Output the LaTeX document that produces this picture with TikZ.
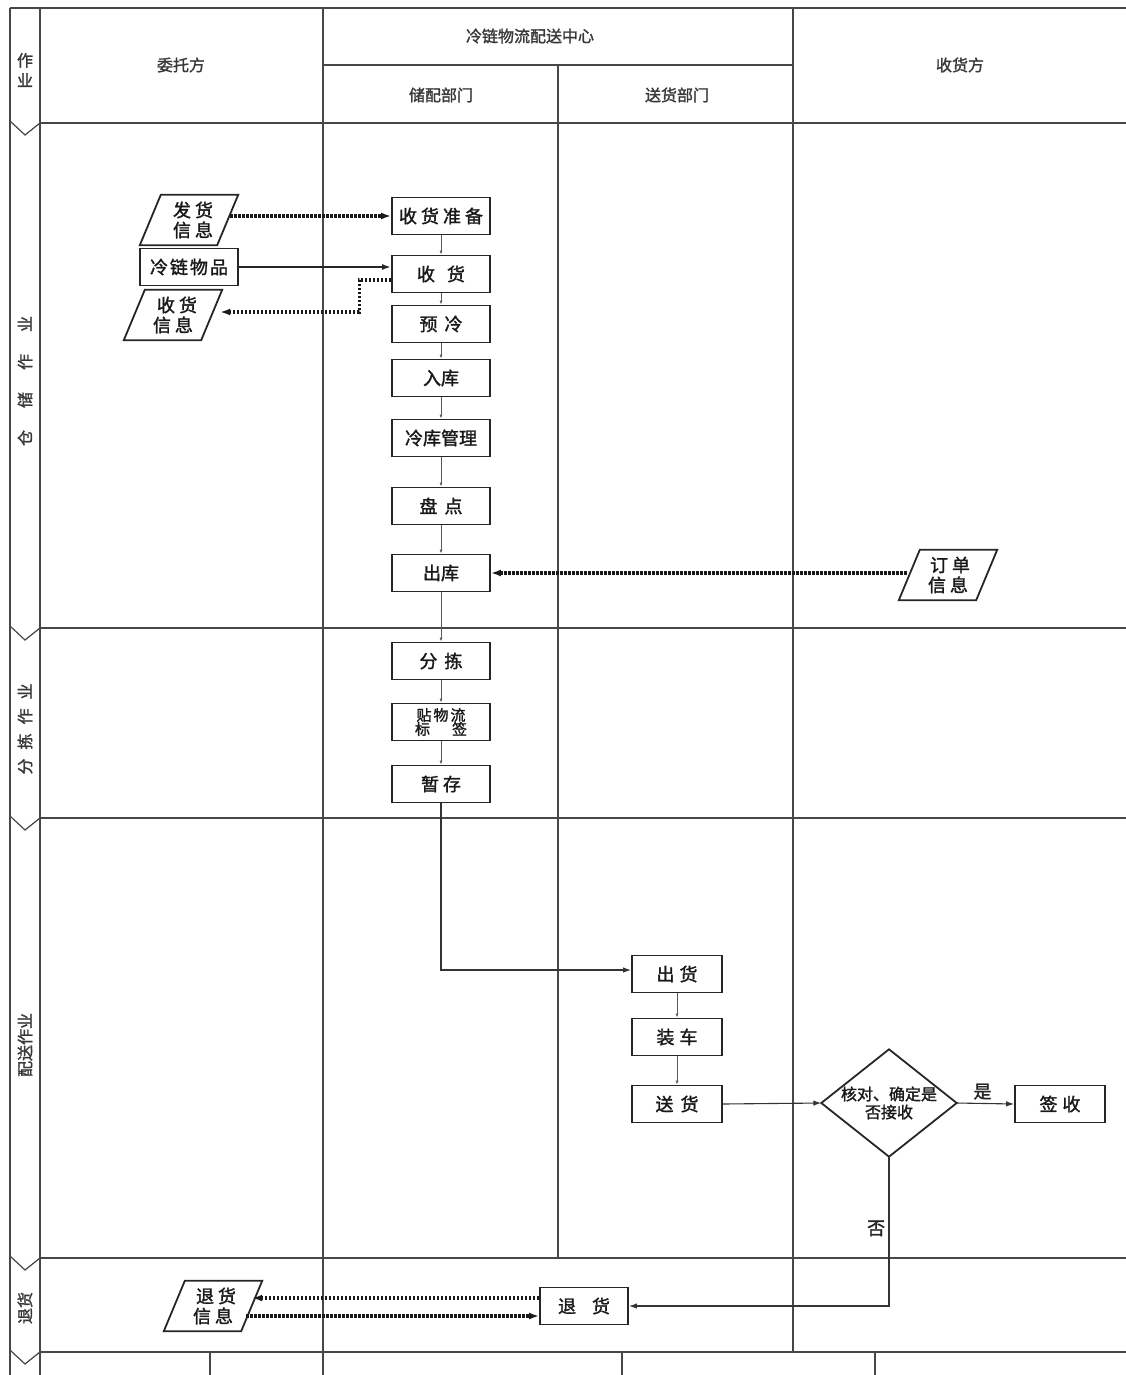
\documentclass[tikz,border=0pt]{standalone}
\usepackage{fontspec}
\setmainfont{Noto Sans CJK SC}[AutoFakeBold=1.6]
\usetikzlibrary{shapes.geometric,arrows.meta,calc}
\newcommand{\gp}[1]{\hspace{#1pt}}
\begin{document}
\begin{tikzpicture}[x=1pt,y=-1pt,
  lane/.style={draw=black!72, line width=1.2pt},
  box/.style={draw=black!85, line width=1.8pt, minimum width=98pt, minimum height=37pt, inner sep=0pt, font=\fontsize{18}{20}\selectfont\bfseries, text=black!90},
  sbox/.style={box, minimum width=90pt},
  ptext/.style={minimum width=98pt, minimum height=50pt, inner sep=0pt, align=center, font=\fontsize{18}{20}\selectfont\bfseries, text=black!90},
  pline/.style={draw=black!85, line width=1.8pt},
  head/.style={font=\fontsize{16}{18}\selectfont\bfseries, text=black!78},
  side/.style={font=\fontsize{16}{18}\selectfont\bfseries, text=black!78},
  con/.style={draw=black!65, line width=0.8pt, -{Latex[length=4pt,width=3pt]}},
  flow/.style={draw=black!85, line width=2.2pt, -{Latex[length=9pt,width=6pt]}},
  tflow/.style={draw=black!80, line width=1.1pt, -{Latex[length=8pt,width=5.5pt]}},
  dotflow/.style={draw=black!90, line width=3.2pt, dash pattern=on 2.4pt off 1.6pt, -{Latex[length=10pt,width=7pt]}},
  lbl/.style={font=\fontsize{18}{20}\selectfont\bfseries, text=black!85}
]
\useasboundingbox (0,0) rectangle (1126,1375);

% ---------- lanes ----------
\draw[lane] (10,8) -- (1126,8);
\draw[lane] (10,8) -- (10,1375);
\draw[lane] (40,8) -- (40,1375);
\draw[lane] (323,8) -- (323,1375);
\draw[lane] (793,8) -- (793,1352);
\draw[lane] (558,65) -- (558,1258);
\draw[lane] (323,65) -- (793,65);
\foreach \yy in {123,628,818,1258,1352}{
  \draw[lane] (40,\yy) -- (1126,\yy);
  \draw[lane] (10,\yy-2) -- (25,\yy+12) -- (40,\yy);
}
\draw[lane] (210,1352) -- (210,1375);
\draw[lane] (622,1352) -- (622,1375);
\draw[lane] (875,1352) -- (875,1375);

% ---------- headers ----------
\node[head] (h1) at (181,65) {委托方};
\node[head] (h2) at (530,36) {冷链物流配送中心};
\node[head] (h3) at (441,95) {储配部门};
\node[head] (h4) at (677,95) {送货部门};
\node[head] (h5) at (960,65) {收货方};

% ---------- side labels ----------
\node[side, align=center, font=\fontsize{16}{20}\selectfont\bfseries] (s0) at (25,70) {作\\业};
\node[side, rotate=90] (s1) at (25,381) {仓\gp{22}储\gp{22}作\gp{22}业};
\node[side, rotate=90] (s2) at (25,729) {分\gp{9}拣\gp{9}作\gp{9}业};
\node[side, rotate=90] (s3) at (25,1045) {配送作业};
\node[side, rotate=90] (s4) at (25,1308) {退货};

% ---------- storage column ----------
\node[box] (sz) at (441,216) {收\gp{4}货\gp{4}准\gp{4}备};
\node[box] (sh) at (441,274) {收\gp{12}货};
\node[box] (yl) at (441,324) {预\gp{7}冷};
\node[box] (rk) at (441,378) {入库};
\node[box] (lk) at (441,438) {冷库管理};
\node[box] (pd) at (441,506) {盘\gp{7}点};
\node[box] (ck) at (441,573) {出库};
\node[box] (fj) at (441,661) {分\gp{7}拣};
\node[box, align=center, font=\fontsize{15}{14}\selectfont\bfseries] (tb) at (441,722) {贴\gp{2}物\gp{2}流\\标\gp{22}签};
\node[box] (zc) at (441,784) {暂\gp{4}存};

% ---------- delivery column ----------
\node[sbox] (chu) at (677,974) {出\gp{5}货};
\node[sbox] (zche) at (677,1037) {装\gp{5}车};
\node[sbox] (sh2) at (677,1104) {送\gp{7}货};
\node[minimum width=135pt, minimum height=107pt, inner sep=0pt, align=center, font=\fontsize{16}{18}\selectfont\bfseries, text=black!90] (dm) at (889,1103) {核对、确定是\\否接收};
\draw[draw=black!85, line width=1.8pt, line join=miter] (dm.north) -- (dm.east) -- (dm.south) -- (dm.west) -- cycle;
\node[sbox] (qs) at (1060,1104) {签\gp{5}收};
\node[box, minimum width=88pt] (th) at (584,1306) {退\gp{16}货};

% ---------- client side ----------
\node[box] (wp) at (189,267) {冷\gp{2}链\gp{2}物\gp{2}品};
\newcommand{\para}[3]{%
  \node[ptext] (#1) at (#2) {#3};
  \draw[pline] ([xshift=21pt]#1.north west) -- (#1.north east) -- ([xshift=-21pt]#1.south east) -- (#1.south west) -- cycle;}
\para{fh}{189,220}{\gp{8}发\gp{4}货\\\gp{8}信\gp{4}息}
\para{shx}{173,315}{\gp{8}收\gp{4}货\\信\gp{4}息}
\para{dd}{948,575}{\gp{4}订\gp{4}单\\信\gp{4}息}
\para{thx}{213,1306}{\gp{6}退\gp{4}货\\信\gp{4}息}

% ---------- connectors ----------
\coordinate (a1) at ([xshift=-8pt]fh.east);
\draw[dotflow] (a1 |- sz.west) -- (sz.west);
\draw[flow] (wp.east) -- (sh.west |- wp.east);
\draw[dotflow] ([yshift=-6pt]sh.west) -- ++(-32,0) |- ([xshift=-2pt,yshift=3pt]shx.east);
\draw[con] (sz) -- (sh);
\draw[con] (sh) -- (yl);
\draw[con] (yl) -- (rk);
\draw[con] (rk) -- (lk);
\draw[con] (lk) -- (pd);
\draw[con] (pd) -- (ck);
\draw[con] (ck) -- (fj);
\draw[con] (fj) -- (tb);
\draw[con] (tb) -- (zc);
\coordinate (a2) at ([xshift=8pt]dd.west);
\draw[dotflow] (a2 |- ck.east) -- (ck.east);
\draw[tflow] (zc.south) |- ([yshift=4pt]chu.west);
\draw[con] (chu) -- (zche);
\draw[con] (zche) -- (sh2);
\draw[tflow] (sh2.east) -- (dm.west);
\draw[tflow] (dm.east) -- node[lbl, above, pos=0.45] (yes) {是} (qs.west);
\draw[tflow] (dm.south) |- node[lbl, left, pos=0.24] (no) {否} (th.east);
\draw[dotflow] ([yshift=8pt]th.west) -- ([xshift=-10pt,yshift=8pt]thx.east);
\draw[dotflow] ([xshift=-16pt,yshift=-10pt]thx.east) -- ([yshift=-10pt]th.west);
\end{tikzpicture}
\end{document}
